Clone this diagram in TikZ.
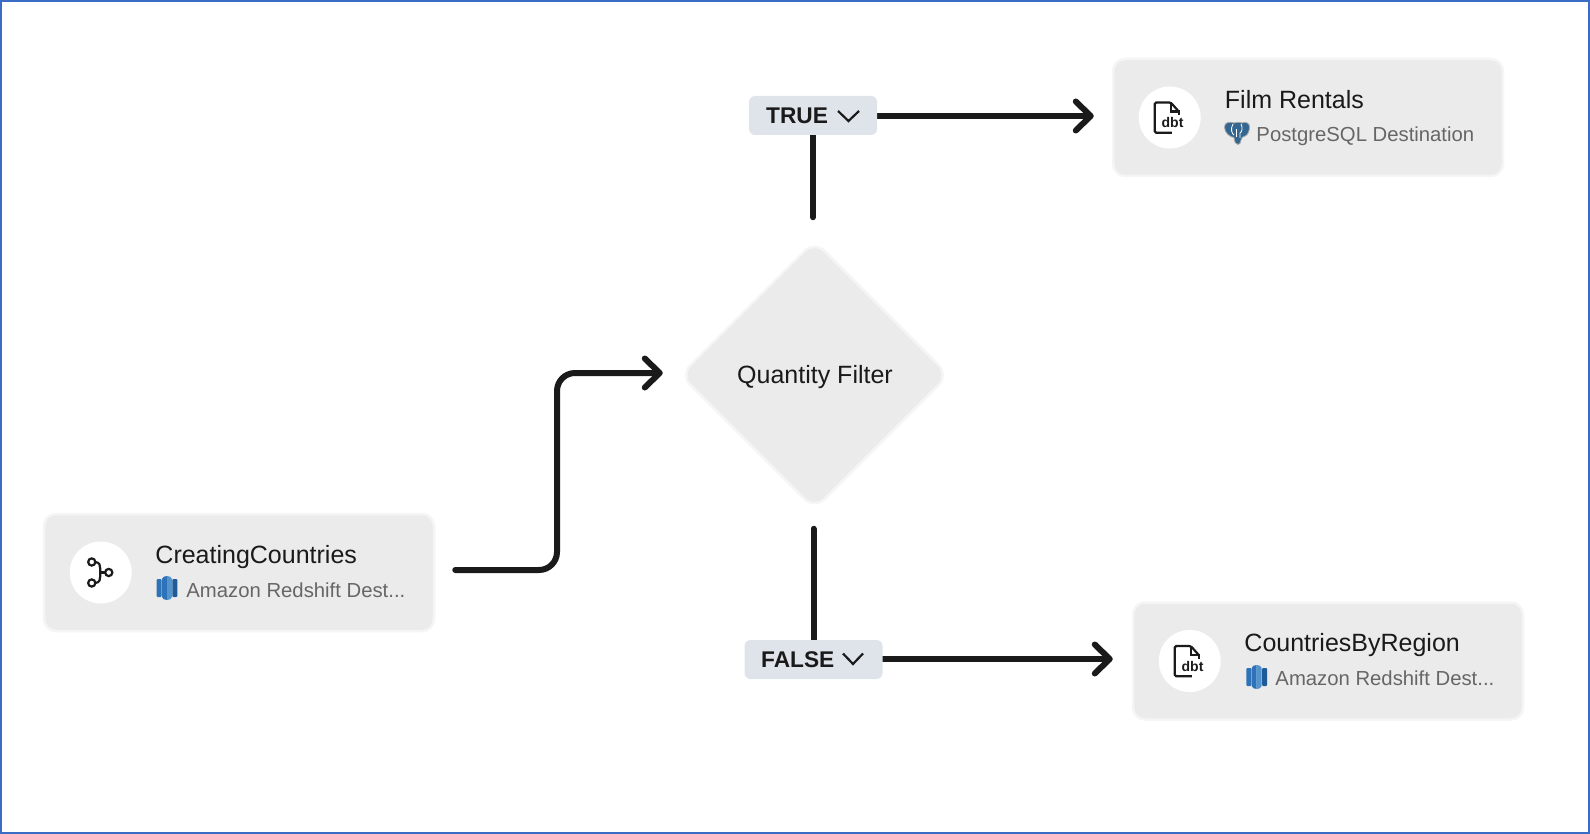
\documentclass[tikz,border=0pt]{standalone}
\usepackage{fontspec}
\setmainfont{Liberation Sans}
\usetikzlibrary{arrows.meta,positioning,calc,backgrounds,shapes.geometric}
\definecolor{boxgray}{HTML}{EBEBEB}
\definecolor{boxglow}{HTML}{F5F5F5}
\definecolor{pillgray}{HTML}{DFE4EB}
\definecolor{ink}{HTML}{1A1A1A}
\definecolor{subgray}{HTML}{666666}
\definecolor{framec}{HTML}{3A6BC5}
\definecolor{rsdark}{HTML}{205B99}
\definecolor{rsmid}{HTML}{2E73B8}
\definecolor{rslight}{HTML}{5294CF}
\definecolor{pgblue}{HTML}{336791}
\tikzset{
  dbtfile/.pic={
    \draw[ink,line width=2.2pt,rounded corners=1.5pt] (2,15.3) -- (-15,15.3) -- (-15,-15) -- (1,-15) -- (9,-6);
    \draw[ink,line width=2.2pt] (1,-15) -- (1,-6) -- (9,-6) -- (9,-2);
    \node[ink,font=\fontsize{14}{14}\selectfont\bfseries] (-dbt) at (2.8,5.3) {dbt};
  },
  branchicon/.pic={
    \draw[ink,line width=2.2pt] (-9,-10.5) circle (3.6);
    \draw[ink,line width=2.2pt] (-9,10.5) circle (3.6);
    \draw[ink,line width=2.2pt] (8,0) circle (3.6);
    \draw[ink,line width=2.2pt] (-5.4,-10.5) .. controls (-1,-10) and (-0.5,-7) .. (-0.5,-4) -- (-0.5,4) .. controls (-0.5,7) and (-1,10) .. (-5.4,10.5);
    \draw[ink,line width=2.2pt] (-0.5,0) -- (4.4,0);
  },
  redshift/.pic={
    \fill[rsmid,rounded corners=1pt] (-10.3,-9) rectangle (-5.4,9);
    \fill[rsmid] (-5,-9) .. controls (-5,-11) and (-2,-12) .. (0,-12) -- (0,12) .. controls (-2,12) and (-5,11) .. (-5,9) -- cycle;
    \fill[rslight] (0,-12) .. controls (2,-12) and (5,-11) .. (5,-9) -- (5,9) .. controls (5,11) and (2,12) .. (0,12) -- cycle;
    \fill[rsdark,rounded corners=1pt] (5.4,-9) rectangle (10.3,9);
  },
  elephant/.pic={
    \fill[pgblue,draw=gray!70,line width=0.8pt] (-12.5,-6) .. controls (-12.5,-11) and (-7,-11.5) .. (-3,-10) .. controls (0,-11) and (3,-11) .. (5,-10)
      .. controls (9,-11.5) and (12.5,-10) .. (12.5,-6) .. controls (12.5,-1) and (10,3) .. (7,3.5) .. controls (5.5,3.5) and (4.5,5) .. (4,7)
      .. controls (3.5,10) and (2.5,11.5) .. (1,11.5) .. controls (-1.5,11.5) and (-2.5,9) .. (-3,4.5) .. controls (-7,4) and (-12.5,0) .. (-12.5,-6) -- cycle;
    \draw[white,line width=0.8pt] (-4,-9) .. controls (-7,-4) and (-5,1) .. (-3,2);
    \draw[white,line width=0.8pt] (4,-9) .. controls (6,-5) and (5,-1) .. (3,0) -- (3,5);
    \draw[white,line width=0.8pt] (-1,-4) -- (-1,4);
  }
}
\begin{document}
\begin{tikzpicture}[x=1pt,y=-1pt]
      \tikzstyle{box}=[rectangle,rounded corners=12pt,fill=boxgray,draw=boxglow,line width=2.5pt,minimum width=390pt,minimum height=117pt,inner sep=0pt]
      \tikzstyle{disc}=[circle,fill=white,minimum size=62pt,inner sep=0pt]
      \tikzstyle{nm}=[anchor=base west,inner sep=0pt,text=ink,font=\fontsize{25}{28}\selectfont]
      \tikzstyle{sub}=[anchor=base west,inner sep=0pt,text=subgray,font=\fontsize{20.3}{25}\selectfont]
      \tikzstyle{pill}=[rectangle,rounded corners=6pt,fill=pillgray,minimum height=39pt,inner sep=0pt]
      \tikzstyle{tag}=[anchor=base west,inner sep=0pt,text=ink,font=\fontsize{22.7}{28}\selectfont\bfseries]
      \tikzstyle{chev}=[ink,line width=2.2pt,line join=miter]
      \tikzstyle{link}=[ink,line width=6pt,line cap=round,-{Straight Barb[round,length=15pt,width=29pt]}]
      \tikzstyle{stem}=[ink,line width=6pt,line cap=round]
      \useasboundingbox (0,0) rectangle (1590,834);
      \node[rectangle,draw=framec,line width=2pt,minimum width=1588pt,minimum height=832pt,inner sep=0pt] (frame) at (795,417) {};

      % left source
      \node[box] (creating) at (239,572.5) {};
      \node[disc] (creatingdisc) at ([xshift=58pt]creating.west) {};
      \pic at (creatingdisc.center) {branchicon};
      \node[nm] (creatingname) at ([xshift=112.5pt,yshift=9.5pt]creating.west) {CreatingCountries};
      \pic at (167,588) {redshift};
      \node[sub] (creatingsub) at ([xshift=143.5pt,yshift=-24.5pt]creating.west) {Amazon Redshift Dest...};

      % decision
      \node[diamond,aspect=1,rounded corners=14pt,fill=boxgray,draw=boxglow,line width=2.5pt,minimum width=269pt,minimum height=269pt,inner sep=0pt] (filter) at (814.5,375) {};
      \node[anchor=base,inner sep=0pt,text=ink,font=\fontsize{25}{28}\selectfont] (filtername) at (815,383.5) {Quantity Filter};

      % branches
      \node[pill,minimum width=128pt] (truepill) at (813,115.5) {};
      \node[tag] (truetag) at (766,124) {TRUE};
      \draw[chev] (838,111) -- (848.5,121) -- (859,111);
      \node[pill,minimum width=138pt] (falsepill) at (813.5,659.5) {};
      \node[tag] (falsetag) at (761,667.5) {FALSE};
      \draw[chev] (843,653.5) -- (853,664) -- (863,653.5);

      % targets
      \node[box] (film) at (1308,117.5) {};
      \node[disc] (filmdisc) at ([xshift=58pt]film.west) {};
      \pic at (filmdisc.center) {dbtfile};
      \node[nm] (filmname) at ([xshift=113pt,yshift=9pt]film.west) {Film Rentals};
      \pic at (1237,133) {elephant};
      \node[sub] (filmsub) at ([xshift=144.5pt,yshift=-24.5pt]film.west) {PostgreSQL Destination};

      \node[box] (region) at (1328,661) {};
      \node[disc] (regiondisc) at ([xshift=58pt]region.west) {};
      \pic at (regiondisc.center) {dbtfile};
      \node[nm] (regionname) at ([xshift=112.5pt,yshift=9.5pt]region.west) {CountriesByRegion};
      \pic at (1256.7,677) {redshift};
      \node[sub] (regionsub) at ([xshift=143.5pt,yshift=-24.5pt]region.west) {Amazon Redshift Dest...};

      \coordinate (bend) at (557,470);
      \begin{scope}[on background layer]
      \draw[link,rounded corners=18pt,shorten <=20pt,shorten >=16pt] ([yshift=2.5pt]creating.east) -| (bend) |- ([yshift=2pt]filter.west);
      \draw[stem,shorten >=22pt] (truepill.south) -- (truepill.south |- filter.north);
      \draw[stem,shorten >=18pt] (falsepill.north) -- (falsepill.north |- filter.south);
      \draw[link,shorten >=18pt] ([yshift=-0.5pt]truepill.east) -- ([yshift=-0.5pt]truepill.east -| film.west);
      \draw[link,shorten >=19pt] ([yshift=0.5pt]falsepill.east) -- ([yshift=0.5pt]falsepill.east -| region.west);
      \end{scope}
    \end{tikzpicture}
\end{document}
